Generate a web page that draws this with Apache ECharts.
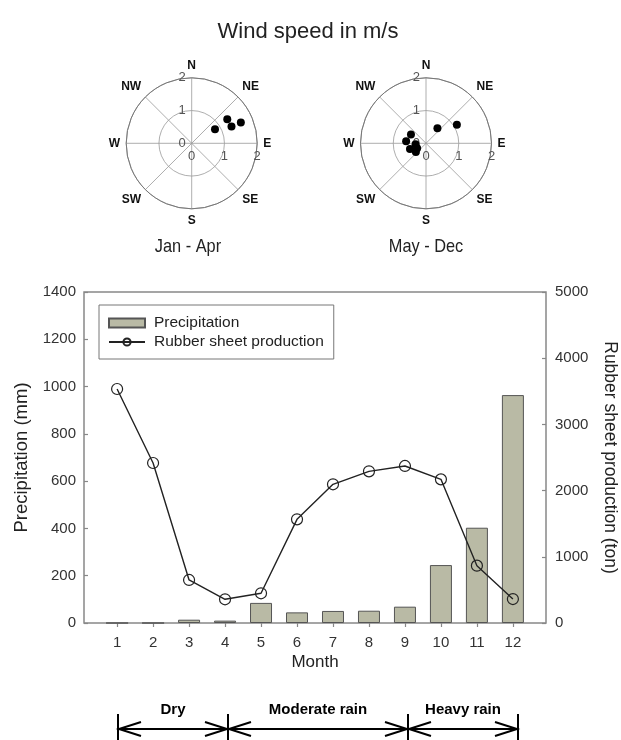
<!DOCTYPE html>
<html>
<head>
<meta charset="utf-8">
<script src="https://cdn.jsdelivr.net/npm/echarts@6/dist/echarts.min.js"></script>
<style>
html,body{margin:0;padding:0;background:#fff;}
#chart{width:621px;height:740px;}
</style>
</head>
<body>
<div id="chart"></div>
<script>
// ---- data ----
var months = [1, 2, 3, 4, 5, 6, 7, 8, 9, 10, 11, 12];
var precipitation = [0, 0, 14, 10, 85, 45, 51, 52, 69, 245, 403, 964];
var rubberProduction = [3535, 2417, 650, 358, 449, 1566, 2095, 2291, 2372, 2170, 866, 362];
var leftTicks = [0, 200, 400, 600, 800, 1000, 1200, 1400];
var rightTicks = [0, 1000, 2000, 3000, 4000, 5000];
var compassLabels = ['N', 'NE', 'E', 'SE', 'S', 'SW', 'W', 'NW'];
var windJanAprSpeed = [0.83, 1.31, 1.32, 1.63];
var windJanAprDir = [59, 56, 67, 67];
var windMayDecSpeed = [0.58, 1.10, 0.53, 0.61, 0.32, 0.31, 0.52, 0.41];
var windMayDecDir = [37, 59, 300, 276, 265, 241, 250, 229];
var seasons = ['Dry', 'Moderate rain', 'Heavy rain'];
var periodLabels = ['Jan - Apr', 'May - Dec'];

var FONT = '"Liberation Sans", Arial, sans-serif';

function pairs(xs, ys) { return xs.map(function (x, i) { return [x, ys[i]]; }); }

var chart = echarts.init(document.getElementById('chart'), null, {renderer: 'canvas'});

var R = 65.5;
var polarCenters = [[191.7, 143.3], [191.7, 143.3], [426, 143.3], [426, 143.3]];

function mainAngleAxis(idx) {
  return {
    polarIndex: idx, type: 'value', min: 0, max: 360, interval: 45,
    startAngle: 90, clockwise: true,
    axisLine: {show: true, lineStyle: {color: '#777', width: 1}},
    axisTick: {show: false},
    splitLine: {show: true, lineStyle: {color: '#999', width: 0.8}},
    axisLabel: {
      show: true, margin: 6, fontFamily: FONT, fontSize: 12, fontWeight: 'bold', color: '#111',
      formatter: function (v) { return v >= 360 ? '' : compassLabels[Math.round(v / 45)]; }
    }
  };
}
function hiddenAngleAxis(idx) {
  return {
    polarIndex: idx, type: 'value', min: 0, max: 360, startAngle: 0, clockwise: true,
    axisLine: {show: false}, axisTick: {show: false}, splitLine: {show: false}, axisLabel: {show: false}
  };
}
function radAxis(idx, main) {
  return {
    polarIndex: idx, type: 'value', min: 0, max: 2, interval: 1,
    axisLine: {show: false}, axisTick: {show: false},
    splitLine: {show: main, lineStyle: {color: '#999', width: 0.8}},
    axisLabel: main
      ? {show: true, margin: 6, fontFamily: FONT, fontSize: 13, color: '#555'}
      : {show: true, margin: -7, verticalAlign: 'top', fontFamily: FONT, fontSize: 13, color: '#555'}
  };
}

function extraGraphics() {
  var xs = [118, 228, 408, 518];
  var y = 729, els = [];
  xs.forEach(function (x) {
    els.push({type: 'line', shape: {x1: x, y1: 714, x2: x, y2: 740}, style: {stroke: '#000', lineWidth: 2}});
  });
  els.push({type: 'line', shape: {x1: xs[0], y1: y, x2: xs[3], y2: y}, style: {stroke: '#000', lineWidth: 2}});
  for (var i = 0; i < 3; i++) {
    var a = xs[i], b = xs[i + 1];
    els.push({type: 'polyline', shape: {points: [[a + 23, y - 7], [a + 1, y], [a + 23, y + 7]]}, style: {stroke: '#000', lineWidth: 2, fill: null}});
    els.push({type: 'polyline', shape: {points: [[b - 23, y - 7], [b - 1, y], [b - 23, y + 7]]}, style: {stroke: '#000', lineWidth: 2, fill: null}});
    els.push({type: 'text', x: (a + b) / 2, y: 710, style: {text: seasons[i], font: 'bold 15px ' + FONT, fill: '#000', align: 'center', verticalAlign: 'middle'}});
  }
  els.push({type: 'text', x: 188, y: 247, scaleX: 0.86, style: {text: periodLabels[0], font: '19px ' + FONT, fill: '#222', align: 'center', verticalAlign: 'middle'}});
  els.push({type: 'text', x: 426, y: 247, scaleX: 0.86, style: {text: periodLabels[1], font: '19px ' + FONT, fill: '#222', align: 'center', verticalAlign: 'middle'}});
  return els;
}

var option = {
  backgroundColor: '#fff',
  animation: false,
  title: [
    {text: 'Wind speed in m/s', left: 303, top: 16, textAlign: 'center', textStyle: {fontFamily: FONT, fontSize: 22, fontWeight: 'normal', color: '#222'}}
  ],
  polar: polarCenters.map(function (c) { return {center: c, radius: R}; }),
  angleAxis: [mainAngleAxis(0), hiddenAngleAxis(1), mainAngleAxis(2), hiddenAngleAxis(3)],
  radiusAxis: [radAxis(0, true), radAxis(1, false), radAxis(2, true), radAxis(3, false)],
  grid: {left: 84, right: 75, top: 292, height: 331, outerBoundsMode: 'none', containLabel: false,
         show: true, borderColor: '#888', borderWidth: 1.5, backgroundColor: 'transparent'},
  legend: {
    left: 99, top: 305, orient: 'vertical',
    padding: [10, 10, 9, 9], itemGap: 3, itemWidth: 36, itemHeight: 9,
    borderColor: '#777', borderWidth: 1, backgroundColor: '#fff',
    textStyle: {fontFamily: FONT, fontSize: 15.5, color: '#222', padding: [0, 0, 0, 4]},
    data: [{name: 'Precipitation', icon: 'rect'}, {name: 'Rubber sheet production'}]
  },
  xAxis: {
    type: 'value', min: 0.08, max: 12.92,
    name: 'Month', nameLocation: 'middle', nameGap: 31,
    nameTextStyle: {fontFamily: FONT, fontSize: 17, color: '#222'},
    axisLine: {show: false},
    axisTick: {show: true, customValues: months, length: 4, lineStyle: {color: '#888', width: 1.2}},
    axisLabel: {show: true, customValues: months, margin: 12, fontFamily: FONT, fontSize: 15, color: '#333'},
    splitLine: {show: false}
  },
  yAxis: [
    {
      type: 'value', min: 0, max: 1400, interval: 200, position: 'left',
      name: 'Precipitation (mm)', nameLocation: 'middle', nameGap: 53, nameRotate: 90,
      nameTextStyle: {fontFamily: FONT, fontSize: 18.5, color: '#222'},
      axisLine: {show: false},
      axisTick: {show: true, inside: true, length: 4, lineStyle: {color: '#888', width: 1.2}},
      axisLabel: {margin: 8, fontFamily: FONT, fontSize: 15, color: '#333', formatter: function (v) { return leftTicks.indexOf(v) >= 0 ? String(v) : ''; }},
      splitLine: {show: false}
    },
    {
      type: 'value', min: 0, max: 5000, interval: 1000, position: 'right',
      name: 'Rubber sheet production (ton)', nameLocation: 'middle', nameGap: 55, nameRotate: -90,
      nameTextStyle: {fontFamily: FONT, fontSize: 17.5, color: '#222'},
      axisLine: {show: false},
      axisTick: {show: true, inside: true, length: 4, lineStyle: {color: '#888', width: 1.2}},
      axisLabel: {margin: 9, fontFamily: FONT, fontSize: 15, color: '#333', formatter: function (v) { return rightTicks.indexOf(v) >= 0 ? String(v) : ''; }},
      splitLine: {show: false}
    }
  ],
  graphic: extraGraphics(),
  series: [
    {
      name: 'Precipitation', type: 'bar', xAxisIndex: 0, yAxisIndex: 0,
      data: pairs(months, precipitation), barWidth: 22,
      itemStyle: {color: '#b9baa5', borderColor: '#555', borderWidth: 1}
    },
    {
      name: 'Rubber sheet production', type: 'line', xAxisIndex: 0, yAxisIndex: 1,
      data: pairs(months, rubberProduction),
      symbol: 'circle', symbolSize: 11,
      lineStyle: {color: '#222', width: 1.4},
      itemStyle: {color: 'rgba(0,0,0,0)', borderColor: '#222', borderWidth: 1.2},
      z: 5
    },
    {
      type: 'scatter', coordinateSystem: 'polar', polarIndex: 0,
      data: pairs(windJanAprSpeed, windJanAprDir), symbolSize: 8,
      itemStyle: {color: '#000', opacity: 1}
    },
    {
      type: 'scatter', coordinateSystem: 'polar', polarIndex: 2,
      data: pairs(windMayDecSpeed, windMayDecDir), symbolSize: 8,
      itemStyle: {color: '#000', opacity: 1}
    }
  ]
};
chart.setOption(option);
</script>
</body>
</html>
